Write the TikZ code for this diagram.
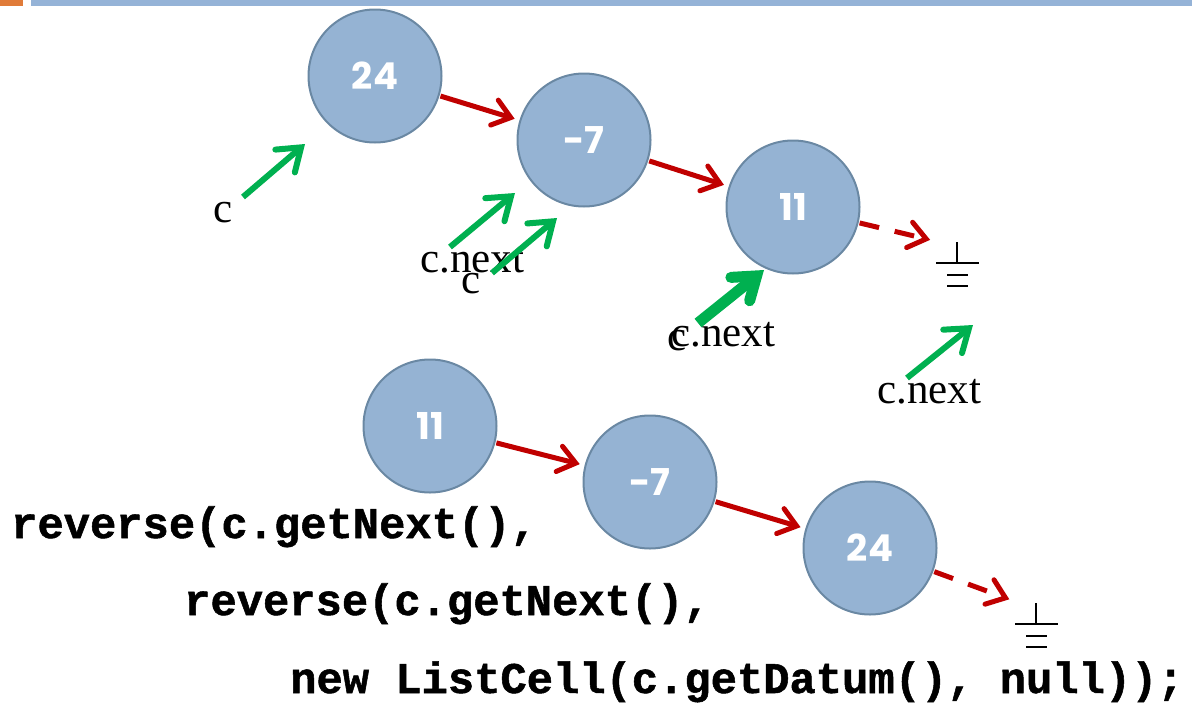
\documentclass[tikz,border=0pt]{standalone}
\usepackage{fontspec}
\setmainfont{Liberation Serif}
\newfontfamily\codefont[BoldFeatures={FakeBold=1.2}]{Liberation Mono}
\newfontfamily\numfont{Poppins}
\usetikzlibrary{arrows.meta}

\definecolor{cellfill}{HTML}{95B3D3}
\definecolor{cellborder}{HTML}{6A88A3}
\definecolor{linkred}{HTML}{C00000}
\definecolor{ptrgreen}{HTML}{00B050}
\definecolor{barblue}{HTML}{95B3D7}
\definecolor{barorange}{HTML}{E07B39}

\tikzset{
  cell/.style={circle, draw=cellborder, line width=2pt, fill=cellfill,
    minimum size=133pt, inner sep=0pt, text=white,
    font=\numfont\bfseries\fontsize{37}{37}\selectfont},
  link/.style={draw=linkred, line width=5pt, shorten >=5pt, shorten <=1pt,
    -{Straight Barb[length=17pt,width=26pt,line cap=round]}},
  nulllink/.style={link, dash pattern=on 20pt off 16pt},
  pointer/.style={draw=ptrgreen, line width=6pt,
    -{Straight Barb[length=21pt,width=30pt,line cap=round]}},
  label/.style={anchor=base west, inner sep=0pt, font=\fontsize{43}{43}\selectfont},
  code/.style={anchor=base west, inner sep=0pt, font=\codefont\bfseries\fontsize{43.8}{44}\selectfont},
  nilsym/.pic={
    \draw[line width=1.6pt] (0,0) -- (0,21) (-21,21) -- (22,21)
      (-10,33) -- (11,33) (-10,44) -- (11,44);
  }
}

\begin{document}
\begin{tikzpicture}[x=1pt,y=-1pt]
  \useasboundingbox (0,0) rectangle (1192,702);

  % title bar
  \fill[barorange] (0,0) rectangle (23,6);
  \fill[barblue] (31,0) rectangle (1192,6);

  % original list
  \node[cell] (a1) at (375,76) {24};
  \node[cell] (a2) at (584,140) {-7};
  \node[cell] (a3) at (793,207) {11};
  \coordinate (nil1) at (935,241);
  \pic at (957,242) {nilsym};

  \draw[link] (a1) -- (a2);
  \draw[link] (a2) -- (a3);
  \draw[nulllink] (a3) -- (nil1);

  % reversed list
  \node[cell] (b1) at (430,426) {11};
  \node[cell] (b2) at (650,482) {-7};
  \node[cell] (b3) at (870,548) {24};
  \coordinate (nil2) at (1014,601);
  \pic at (1036,603) {nilsym};

  \draw[link] (b1) -- (b2);
  \draw[link] (b2) -- (b3);
  \draw[nulllink] (b3) -- (nil2);

  % pointer labels
  \node[label] (l1) at (213,222) {c};
  \node[label] (l2) at (420,272) {c.next};
  \node[label] (l3) at (461,293) {c};
  \node[label] (l4) at (667,350) {c};
  \node[label] (l5) at (671,346) {c.next};
  \node[label] (l6) at (877,403) {c.next};

  % pointer arrows
  \coordinate (p1s) at (243,197); \coordinate (p1e) at (305,144);
  \coordinate (p2s) at (450,247); \coordinate (p2e) at (515,193);
  \coordinate (p3s) at (492,273); \coordinate (p3e) at (557,218);
  \coordinate (p4s) at (698,323); \coordinate (p4e) at (764,270);
  \coordinate (p5s) at (907,378); \coordinate (p5e) at (973,325);
  \draw[pointer] (p1s) -- (p1e);
  \draw[pointer] (p2s) -- (p2e);
  \draw[pointer] (p3s) -- (p3e);
  \draw[pointer, line width=11pt] (p4s) -- (p4e);
  \draw[pointer] (p5s) -- (p5e);

  % the recursive call
  \node[code] (k1) at (11,538) {reverse(c.getNext(),};
  \node[code] (k2) at (184,615) {reverse(c.getNext(),};
  \node[code] (k3) at (290,693) {new ListCell(c.getDatum(), null));};
\end{tikzpicture}
\end{document}
